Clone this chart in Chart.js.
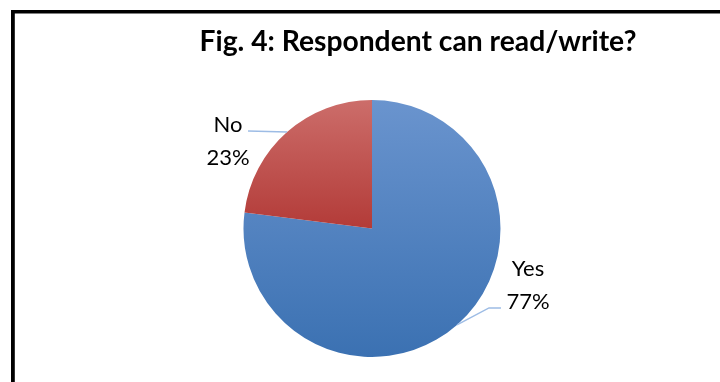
<!DOCTYPE html>
<html>
<head>
<meta charset="utf-8">
<script src="https://cdn.jsdelivr.net/npm/chart.js@4"></script>
<style>
  html, body { margin: 0; padding: 0; background: #ffffff; }
  canvas { display: block; }
</style>
</head>
<body>
<canvas id="c" width="720" height="382"></canvas>
<script>
// ---- data ----
const categories = ['Yes', 'No'];
const values = [77, 23];
const percentLabels = ['77%', '23%'];
const chartTitle = 'Fig. 4: Respondent can read/write?';

// ---- styles ----
const topColors = ['#6a94ce', '#cc6d6a'];
const bottomColors = ['#3b71b2', '#b33b38'];
const leaderColor = '#9dbce5';
const labelFont = '22px Lato';
const titleFontFamily = 'Lato';

function sliceGradient(ctx) {
  const chart = ctx.chart;
  const a = chart.chartArea;
  const i = ctx.dataIndex;
  if (!a) return bottomColors[i];
  const data = chart.data.datasets[0].data;
  const total = data.reduce((s, v) => s + v, 0);
  let before = 0;
  for (let k = 0; k < i; k++) before += data[k];
  const cy = (a.top + a.bottom) / 2;
  const r = Math.min(a.width, a.height) / 2;
  const start = -Math.PI / 2 + 2 * Math.PI * before / total;
  const end = start + 2 * Math.PI * data[i] / total;
  const ys = [cy, cy + r * Math.sin(start), cy + r * Math.sin(end)];
  for (let n = -2; n <= 4; n++) {
    const ang = -Math.PI / 2 + n * Math.PI;
    if (ang >= start && ang <= end) ys.push(cy + r * Math.sin(ang));
  }
  const y0 = Math.min(...ys), y1 = Math.max(...ys);
  const g = chart.ctx.createLinearGradient(0, y0, 0, y1);
  g.addColorStop(0, topColors[i]);
  g.addColorStop(1, bottomColors[i]);
  return g;
}

const framePlugin = {
  id: 'frame',
  beforeDraw(chart) {
    const c = chart.ctx;
    c.save();
    c.fillStyle = '#ffffff';
    c.fillRect(0, 0, chart.width, chart.height);
    c.fillStyle = '#000000';
    c.fillRect(11, 10, chart.width - 11, 3.5);
    c.fillRect(11, 10, 3.8, chart.height - 10);
    c.restore();
  },
  afterDatasetsDraw(chart) {
    const c = chart.ctx;
    c.save();
    // title
    let size = 24;
    c.font = 'bold ' + size + 'px ' + titleFontFamily;
    const w = c.measureText(chartTitle).width;
    size = size * 437 / w;
    c.font = 'bold ' + size + 'px ' + titleFontFamily;
    c.fillStyle = '#000000';
    c.textAlign = 'center';
    c.textBaseline = 'alphabetic';
    c.fillText(chartTitle, 418, 51);

    // labels with leader lines
    const meta = chart.getDatasetMeta(0);
    meta.data.forEach((arc, i) => {
      const p = arc.getProps(['x', 'y', 'startAngle', 'endAngle', 'outerRadius'], true);
      const mid = (p.startAngle + p.endAngle) / 2;
      const ax = p.x + p.outerRadius * Math.cos(mid);
      const ay = p.y + p.outerRadius * Math.sin(mid);
      c.strokeStyle = leaderColor;
      c.lineWidth = 1.5;
      c.beginPath();
      c.moveTo(ax, ay);
      let tx, by;
      if (Math.cos(mid) >= 0) {
        const ex = ax + 32, ey = ay - 17;
        c.lineTo(ex, ey);
        c.lineTo(ex + 12, ey);
        tx = ex + 12 + 27;
        by = ey - 32;
      } else {
        const ex = ax - 39, ey = ay - 1;
        c.lineTo(ex, ey);
        tx = ex - 20;
        by = ey + 1;
      }
      c.stroke();
      c.font = labelFont;
      c.fillStyle = '#000000';
      c.textAlign = 'center';
      c.fillText(categories[i], tx, by);
      c.fillText(percentLabels[i], tx, by + 33);
    });
    c.restore();
  }
};

new Chart(document.getElementById('c'), {
  type: 'pie',
  data: {
    labels: categories,
    datasets: [{
      data: values,
      backgroundColor: sliceGradient,
      borderWidth: 0
    }]
  },
  options: {
    responsive: false,
    devicePixelRatio: 1,
    animation: false,
    layout: { padding: { top: 100, bottom: 25, left: 124, right: 100 } },
    plugins: {
      legend: { display: false },
      tooltip: { enabled: false },
      title: { display: false }
    }
  },
  plugins: [framePlugin]
});
</script>
</body>
</html>
